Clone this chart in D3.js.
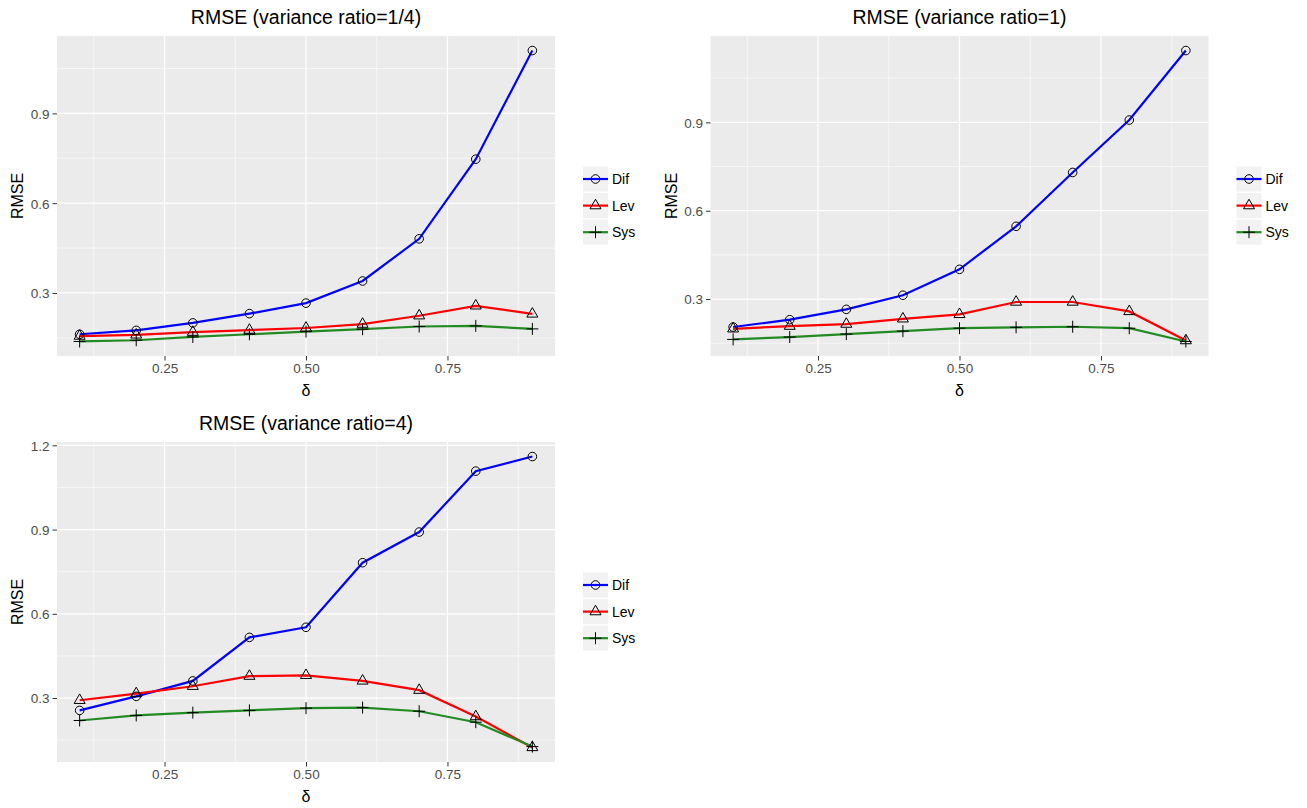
<!DOCTYPE html>
<html>
<head>
<meta charset="utf-8">
<script src="https://cdn.jsdelivr.net/npm/d3@7"></script>
<style>
  body { margin: 0; background: #fff; }
  text { font-family: "Liberation Sans", Arial, sans-serif; }
</style>
</head>
<body>
<script>
// x values shared by every panel
var deltas = [0.1, 0.2, 0.3, 0.4, 0.5, 0.6, 0.7, 0.8, 0.9];
var seriesNames = ["Dif", "Lev", "Sys"];
var seriesColors = ["#0000ff", "#ff0000", "#228b22"];

// variance ratio = 1/4
var dif14 = [0.162, 0.175, 0.200, 0.231, 0.266, 0.340, 0.481, 0.747, 1.110];
var lev14 = [0.156, 0.160, 0.169, 0.176, 0.183, 0.196, 0.224, 0.257, 0.230];
var sys14 = [0.138, 0.142, 0.153, 0.162, 0.171, 0.179, 0.188, 0.190, 0.180];

// variance ratio = 1
var dif1 = [0.205, 0.230, 0.265, 0.313, 0.401, 0.547, 0.730, 0.908, 1.144];
var lev1 = [0.199, 0.208, 0.215, 0.233, 0.248, 0.290, 0.290, 0.258, 0.159];
var sys1 = [0.163, 0.171, 0.181, 0.191, 0.201, 0.204, 0.206, 0.201, 0.156];

// variance ratio = 4
var dif4 = [0.256, 0.306, 0.361, 0.516, 0.552, 0.782, 0.891, 1.108, 1.160];
var lev4 = [0.292, 0.316, 0.342, 0.378, 0.381, 0.361, 0.328, 0.234, 0.124];
var sys4 = [0.220, 0.238, 0.248, 0.256, 0.264, 0.266, 0.253, 0.214, 0.127];

// tick labels
var xTicks = [0.25, 0.50, 0.75];
var xMinor = [0.125, 0.375, 0.625, 0.875];
var yTicksTop = [0.3, 0.6, 0.9];
var yTicksBottom = [0.3, 0.6, 0.9, 1.2];
var yMinor = [0.15, 0.45, 0.75, 1.05];

var titles = ["RMSE (variance ratio=1/4)", "RMSE (variance ratio=1)", "RMSE (variance ratio=4)"];

var width = 1307,
    height = 808;

var svg = d3.select("body")
    .append("svg")
    .attr("width", width)
    .attr("height", height);

// plot box inside each cell
var plotLeft = 57,
    plotRight = 555,
    plotTop = 36,
    plotBottom = 356;

// marker shapes: open circle, open triangle, plus
var triangleType = {
    draw: function(ctx) {
        var s = 11, h = s * Math.sqrt(3) / 2;
        ctx.moveTo(0, -h * 2 / 3);
        ctx.lineTo(s / 2, h / 3);
        ctx.lineTo(-s / 2, h / 3);
        ctx.closePath();
    }
};
var plusType = {
    draw: function(ctx) {
        var r = 6;
        ctx.moveTo(-r, 0); ctx.lineTo(r, 0);
        ctx.moveTo(0, -r); ctx.lineTo(0, r);
    }
};
var symbols = [
    d3.symbol().type(d3.symbolCircle).size(58),
    d3.symbol().type(triangleType),
    d3.symbol().type(plusType)
];

function drawPanel(ox, oy, title, series, yTicks) {
    var g = svg.append("g").attr("transform", "translate(" + ox + "," + oy + ")");

    var x = d3.scaleLinear()
        .domain([0.1 - 0.04, 0.9 + 0.04])
        .range([plotLeft, plotRight]);

    // ggplot style 5% expansion on y
    var all = d3.merge(series);
    var lo = d3.min(all), hi = d3.max(all), pad = (hi - lo) * 0.05;
    var y = d3.scaleLinear()
        .domain([lo - pad, hi + pad])
        .range([plotBottom, plotTop]);

    // panel background
    g.append("rect")
        .attr("x", plotLeft).attr("y", plotTop)
        .attr("width", plotRight - plotLeft)
        .attr("height", plotBottom - plotTop)
        .attr("fill", "#ebebeb");

    // minor grid
    g.selectAll(".xminor").data(xMinor).enter().append("line")
        .attr("x1", x).attr("x2", x)
        .attr("y1", plotTop).attr("y2", plotBottom)
        .attr("stroke", "#fff").attr("stroke-width", 0.6);
    g.selectAll(".yminor").data(yMinor.filter(function(v) { return v > y.domain()[0] && v < y.domain()[1]; }))
        .enter().append("line")
        .attr("x1", plotLeft).attr("x2", plotRight)
        .attr("y1", y).attr("y2", y)
        .attr("stroke", "#fff").attr("stroke-width", 0.6);

    // major grid
    g.selectAll(".xmajor").data(xTicks).enter().append("line")
        .attr("x1", x).attr("x2", x)
        .attr("y1", plotTop).attr("y2", plotBottom)
        .attr("stroke", "#fff").attr("stroke-width", 1.2);
    g.selectAll(".ymajor").data(yTicks).enter().append("line")
        .attr("x1", plotLeft).attr("x2", plotRight)
        .attr("y1", y).attr("y2", y)
        .attr("stroke", "#fff").attr("stroke-width", 1.2);

    // axes
    var xAxis = g.append("g")
        .attr("transform", "translate(0," + plotBottom + ")")
        .call(d3.axisBottom(x).tickValues(xTicks).tickFormat(d3.format(".2f")).tickSize(4.5).tickPadding(3));
    var yAxis = g.append("g")
        .attr("transform", "translate(" + plotLeft + ",0)")
        .call(d3.axisLeft(y).tickValues(yTicks).tickFormat(d3.format(".1f")).tickSize(4.5).tickPadding(3));
    [xAxis, yAxis].forEach(function(a) {
        a.select(".domain").remove();
        a.selectAll(".tick line").attr("stroke", "#333");
        a.selectAll(".tick text")
            .attr("fill", "#4d4d4d")
            .style("font-size", "13.5px")
            .style("font-family", "'Liberation Sans', Arial, sans-serif");
    });
    yAxis.selectAll(".tick text").attr("dy", "0.36em");

    // lines
    var line = d3.line()
        .x(function(d, i) { return x(deltas[i]); })
        .y(function(d) { return y(d); });
    g.selectAll(".series").data(series).enter().append("path")
        .attr("d", line)
        .attr("fill", "none")
        .attr("stroke", function(d, i) { return seriesColors[i]; })
        .attr("stroke-width", 2.2);

    // points
    series.forEach(function(vals, si) {
        g.selectAll(".pt" + si).data(vals).enter().append("path")
            .attr("transform", function(d, i) { return "translate(" + x(deltas[i]) + "," + y(d) + ")"; })
            .attr("d", symbols[si])
            .attr("fill", "none")
            .attr("stroke", "#000")
            .attr("stroke-width", 1);
    });

    // titles
    g.append("text")
        .attr("x", (plotLeft + plotRight) / 2).attr("y", 24)
        .attr("text-anchor", "middle")
        .style("font-size", "19.5px")
        .text(title);
    g.append("text")
        .attr("x", (plotLeft + plotRight) / 2).attr("y", 396)
        .attr("text-anchor", "middle")
        .style("font-size", "16px")
        .text("δ");
    g.append("text")
        .attr("transform", "translate(23," + (plotTop + plotBottom) / 2 + ") rotate(-90)")
        .attr("text-anchor", "middle")
        .style("font-size", "16px")
        .text("RMSE");

    // legend
    var keyX = 583, keyTop = 166.5, keySize = 25, keyStep = 26.6;
    var leg = g.selectAll(".key").data(seriesNames).enter().append("g")
        .attr("transform", function(d, i) { return "translate(" + keyX + "," + (keyTop + i * keyStep) + ")"; });
    leg.append("rect")
        .attr("width", keySize).attr("height", keySize)
        .attr("fill", "#f2f2f2");
    leg.append("line")
        .attr("x1", 0).attr("x2", keySize)
        .attr("y1", keySize / 2).attr("y2", keySize / 2)
        .attr("stroke", function(d, i) { return seriesColors[i]; })
        .attr("stroke-width", 2.2);
    leg.append("path")
        .attr("transform", "translate(" + keySize / 2 + "," + keySize / 2 + ")")
        .attr("d", function(d, i) { return symbols[i](); })
        .attr("fill", "none")
        .attr("stroke", "#000");
    leg.append("text")
        .attr("x", keySize + 4).attr("y", keySize / 2)
        .attr("dy", "0.36em")
        .style("font-size", "14px")
        .text(function(d) { return d; });
}

drawPanel(0, 0, titles[0], [dif14, lev14, sys14], yTicksTop);
drawPanel(653.5, 0, titles[1], [dif1, lev1, sys1], yTicksTop);
drawPanel(0, 406, titles[2], [dif4, lev4, sys4], yTicksBottom);
</script>
</body>
</html>
